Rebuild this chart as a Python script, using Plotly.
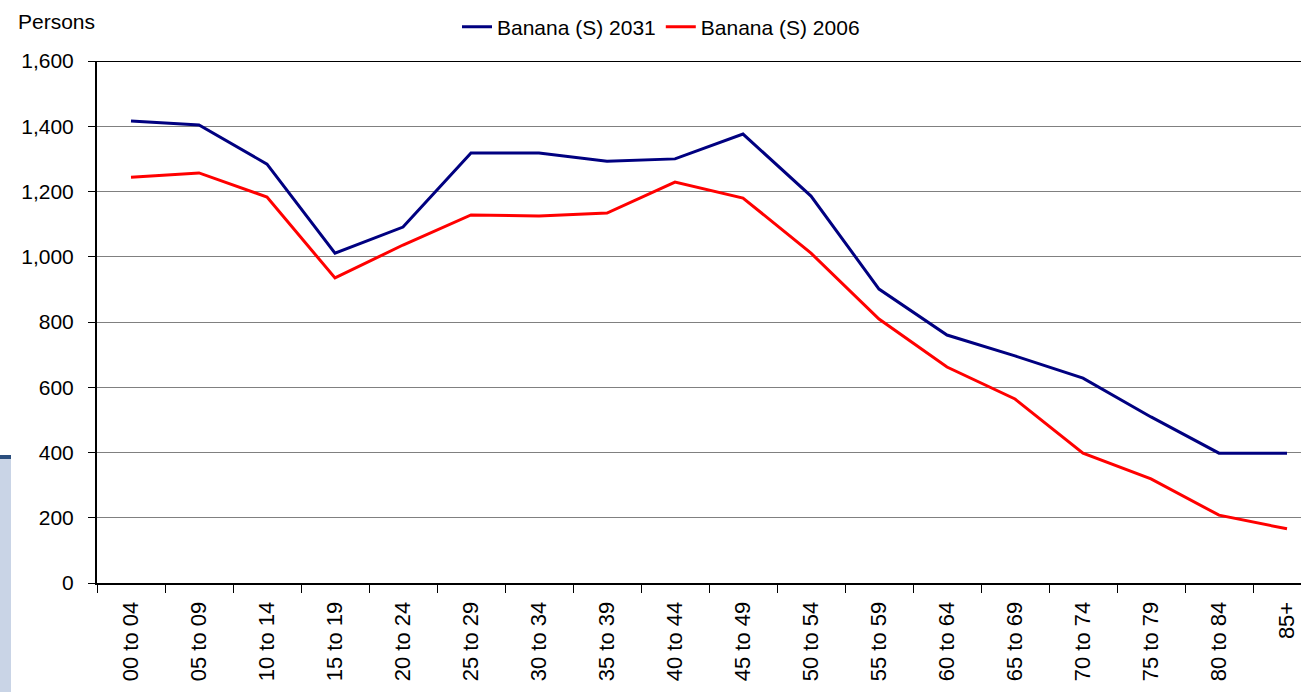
import plotly.graph_objects as go

categories = ["00 to 04", "05 to 09", "10 to 14", "15 to 19", "20 to 24", "25 to 29",
              "30 to 34", "35 to 39", "40 to 44", "45 to 49", "50 to 54", "55 to 59",
              "60 to 64", "65 to 69", "70 to 74", "75 to 79", "80 to 84", "85+"]
banana_2031 = [1416, 1404, 1284, 1011, 1091, 1318, 1318, 1293, 1300, 1376,
               1186, 901, 760, 696, 628, 509, 398, 398]
banana_2006 = [1244, 1257, 1183, 935, 1036, 1128, 1125, 1134, 1229, 1180,
               1011, 809, 662, 564, 398, 319, 208, 166]
y_ticks = [0, 200, 400, 600, 800, 1000, 1200, 1400, 1600]

W, H = 1301, 692
ml, mr, mt, mb = 97, 0, 61, 109
pw = W - ml - mr
ph = H - mt - mb
band = 68.0

fig = go.Figure()
fig.add_trace(go.Scatter(x=categories, y=banana_2031, mode="lines", name="Banana (S) 2031",
                         line=dict(color="#000080", width=3)))
fig.add_trace(go.Scatter(x=categories, y=banana_2006, mode="lines", name="Banana (S) 2006",
                         line=dict(color="#FF0000", width=3)))

def px2paper(px):
    return (px - ml) / pw

def py2paper(py):
    return (H - mb - py) / ph

fig.update_layout(
    width=W, height=H,
    margin=dict(l=ml, r=mr, t=mt, b=mb, autoexpand=False),
    paper_bgcolor="white", plot_bgcolor="white",
    font=dict(family="Arial, Liberation Sans, sans-serif", size=20, color="black"),
    showlegend=True,
    legend=dict(orientation="h", x=px2paper(661), xanchor="center", y=py2paper(27),
                yanchor="middle", font=dict(size=21), bgcolor="rgba(0,0,0,0)",
                itemwidth=30, tracegroupgap=0),
    xaxis=dict(type="category", range=[-0.5, -0.5 + pw / band], showgrid=False,
               tickson="boundaries", ticks="outside", ticklen=8, tickcolor="black",
               tickangle=-90, showline=True, linecolor="black", linewidth=2,
               tickfont=dict(size=22), ticklabelstandoff=8, fixedrange=True),
    yaxis=dict(range=[0, 1600], tickvals=y_ticks, tickformat=",d", showgrid=True,
               gridcolor="#808080", gridwidth=1, ticks="outside", ticklen=7,
               tickcolor="black", showline=True, linecolor="black", linewidth=2,
               tickfont=dict(size=21), ticklabelstandoff=10, zeroline=False),
    shapes=[
        dict(type="line", xref="paper", yref="y", x0=0, x1=1, y0=1600, y1=1600,
             line=dict(color="black", width=2)),
        dict(type="rect", xref="paper", yref="paper", x0=px2paper(0), x1=px2paper(11),
             y0=py2paper(692), y1=py2paper(458),
             fillcolor="#c9d4e6", line=dict(width=0), layer="below"),
        dict(type="rect", xref="paper", yref="paper", x0=px2paper(0), x1=px2paper(11),
             y0=py2paper(459), y1=py2paper(455),
             fillcolor="#2b4f7e", line=dict(width=0), layer="below"),
    ],
    annotations=[
        dict(text="Persons", xref="paper", yref="paper", x=px2paper(16), y=py2paper(21),
             xanchor="left", yanchor="middle", showarrow=False, font=dict(size=21)),
    ],
)

fig.write_html("out.html", config={"displayModeBar": False},
               post_script="document.body.style.margin='0px';")
